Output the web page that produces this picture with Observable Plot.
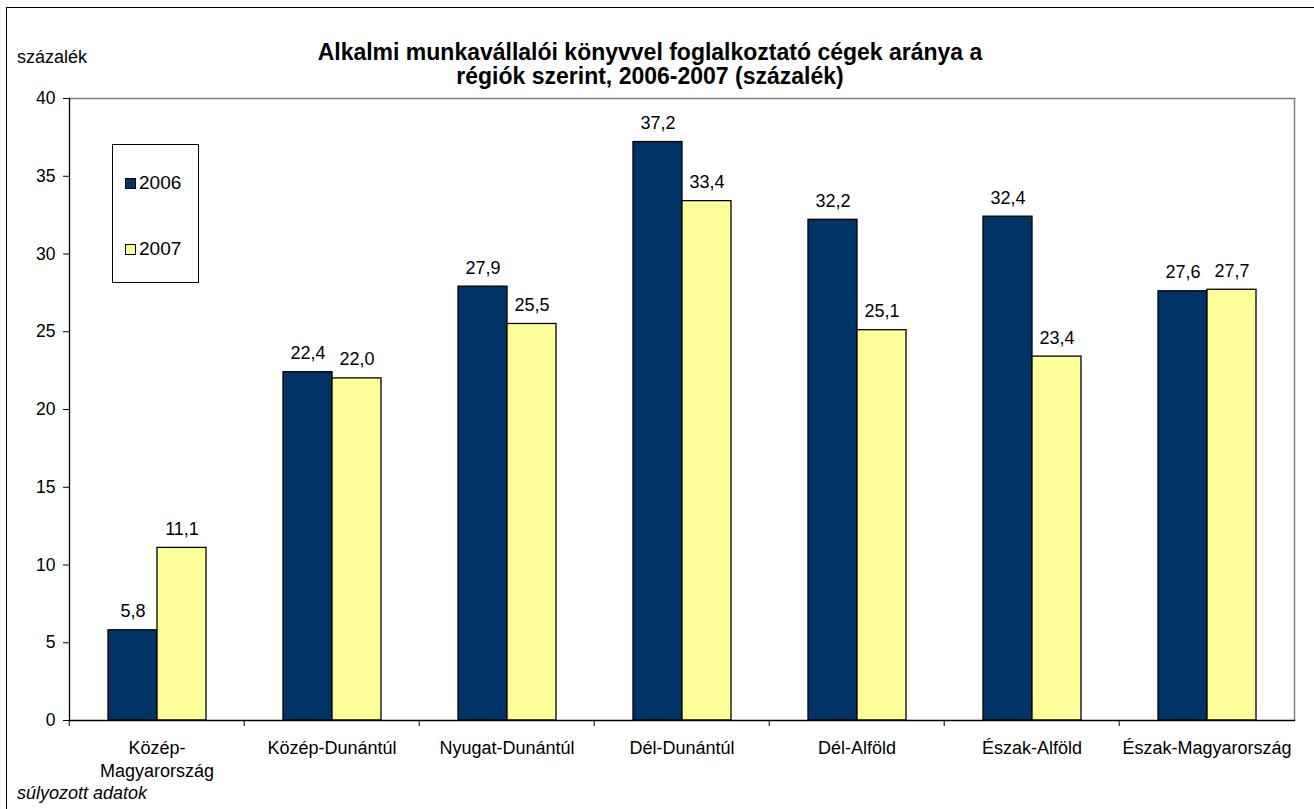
<!DOCTYPE html>
<html>
<head>
<meta charset="utf-8">
<script src="https://cdn.jsdelivr.net/npm/d3@7"></script>
<script src="https://cdn.jsdelivr.net/npm/@observablehq/plot@0.6"></script>
<style>
  html, body { margin: 0; padding: 0; background: #fff; overflow: hidden; }
  body { width: 1314px; height: 809px; position: relative; font-family: "Liberation Sans", Arial, sans-serif; color: #000; }
  #border { position: absolute; left: 6px; top: 7px; width: 1400px; height: 900px; border: 1.5px solid #000; box-sizing: border-box; }
  #chart { position: absolute; left: 0; top: 0; }
  #title { position: absolute; left: 150px; width: 1000px; top: 40px; text-align: center; font-weight: bold; font-size: 23px; line-height: 24px; }
  #ylabel { position: absolute; left: 17px; top: 46px; font-size: 18px; line-height: 22px; }
  #note { position: absolute; left: 17px; top: 782px; font-size: 18px; line-height: 22px; font-style: italic; }
  #legend { position: absolute; left: 112px; top: 144px; width: 87px; height: 139px; border: 1px solid #000; box-sizing: border-box; background: #fff; }
  .item { position: absolute; left: 12px; font-size: 19px; line-height: 22px; display: flex; align-items: center; }
  .sw { width: 9px; height: 9px; border: 1px solid #000; margin-right: 3px; }
</style>
</head>
<body>
<div id="border"></div>
<div id="chart"></div>
<div id="title">Alkalmi munkavállalói könyvvel foglalkoztató cégek aránya a<br>régiók szerint, 2006-2007 (százalék)</div>
<div id="ylabel">százalék</div>
<div id="note">súlyozott adatok</div>
<div id="legend"></div>
<script>
const regions = ["Közép-Magyarország", "Közép-Dunántúl", "Nyugat-Dunántúl", "Dél-Dunántúl", "Dél-Alföld", "Észak-Alföld", "Észak-Magyarország"];
const regionLabels = ["Közép-\nMagyarország", "Közép-Dunántúl", "Nyugat-Dunántúl", "Dél-Dunántúl", "Dél-Alföld", "Észak-Alföld", "Észak-Magyarország"];
const years = ["2006", "2007"];
const values2006 = [5.8, 22.4, 27.9, 37.2, 32.2, 32.4, 27.6];
const values2007 = [11.1, 22.0, 25.5, 33.4, 25.1, 23.4, 27.7];
const yTicks = [0, 5, 10, 15, 20, 25, 30, 35, 40];
const colors = ["#003366", "#FFFF99"];

const rows = [];
regions.forEach((r, i) => {
  rows.push({region: r, year: "2006", value: values2006[i]});
  rows.push({region: r, year: "2007", value: values2007[i]});
});

const W = 1314, H = 809;
const mL = 67, mR = 18, mT = 98, mB = 89;
const step = (W - mL - mR) / regions.length;
const fmt = v => v.toFixed(1).replace(".", ",");

const chart = Plot.plot({
  width: W, height: H,
  marginLeft: mL, marginRight: mR, marginTop: mT, marginBottom: mB,
  style: {fontFamily: "Liberation Sans, Arial, sans-serif", fontSize: "18px", color: "#000", background: "transparent"},
  fx: {domain: regions, padding: 0},
  x: {domain: years, paddingInner: 0, paddingOuter: 0.756, axis: null},
  y: {domain: [0, 40]},
  color: {domain: years, range: colors},
  marks: [
    Plot.frame({anchor: "top", facet: "super", stroke: "#808080", strokeWidth: 1.5}),
    Plot.frame({anchor: "right", facet: "super", stroke: "#808080", strokeWidth: 1.5}),
    Plot.barY(rows, {fx: "region", x: "year", y: "value", fill: "year", stroke: "#000", strokeWidth: 1.3}),
    Plot.text(rows, {fx: "region", x: "year", y: "value", text: d => fmt(d.value), lineAnchor: "bottom", dy: -13, fontSize: 18, fill: "#000"}),
    Plot.frame({anchor: "bottom", facet: "super", stroke: "#000", strokeWidth: 1.3}),
    Plot.frame({anchor: "left", facet: "super", stroke: "#000", strokeWidth: 1.3}),
    Plot.axisY({ticks: yTicks, tickSize: 6, tickPadding: 8, fontSize: 17.5, label: null, tickFormat: d => String(d)}),
    Plot.axisFx({anchor: "bottom", tickSize: 0, tickPadding: 17, fontSize: 18, lineHeight: 1.28, label: null, tickFormat: d => regionLabels[regions.indexOf(d)]}),
    Plot.axisFx({anchor: "bottom", tickSize: 6, label: null, tickFormat: () => "", dx: -step / 2})
  ]
});
document.getElementById("chart").appendChild(chart);

const legend = document.getElementById("legend");
[[years[0], colors[0], 27], [years[1], colors[1], 93]].forEach(([y, c, top]) => {
  const it = document.createElement("div");
  it.className = "item";
  it.style.top = top + "px";
  it.innerHTML = `<span class="sw" style="background:${c}"></span><span>${y}</span>`;
  legend.appendChild(it);
});
</script>
</body>
</html>
